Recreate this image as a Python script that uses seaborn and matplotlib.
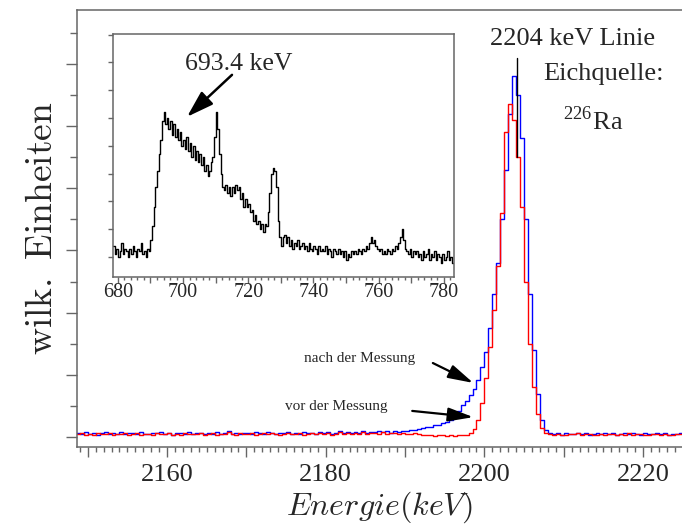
"""Ge-detector spectrum around the 2204 keV line, with inset of the 693.4 keV region."""

import matplotlib
matplotlib.use("Agg")
import matplotlib.pyplot as plt
from matplotlib.ticker import MultipleLocator, FuncFormatter, NullFormatter
import numpy as np
import pandas as pd
import seaborn as sns


# main spectrum: 0.5 keV channels starting at 2148.5 keV
MAIN_E_START = 2148.5
MAIN_BIN = 0.5

BLUE_NACH = [
    1.3, 0.9, 1.5, 1.1, 1.4, 0.8, 1.2, 1.6, 1.0, 1.3,
    1.1, 1.5, 0.9, 1.2, 1.4, 1.0, 1.7, 1.1, 0.9, 1.3,
    1.2, 1.5, 1.0, 1.3, 0.8, 1.2, 1.4, 1.1, 1.6, 1.0,
    1.3, 1.2, 0.9, 1.4, 1.1, 1.5, 1.0, 1.3, 1.8, 1.1,
    1.2, 0.9, 1.4, 1.2, 1.0, 1.5, 1.3, 1.1, 1.6, 1.2,
    1.0, 1.4, 1.2, 1.5, 1.1, 1.3, 0.9, 1.6, 1.2, 1.4,
    1.1, 1.7, 1.3, 1.5, 1.0, 1.4, 1.8, 1.2, 1.5, 1.3,
    1.6, 1.4, 1.9, 1.3, 1.7, 1.5, 2.0, 1.6, 1.8, 1.4,
    2.1, 1.7, 1.9,
    2.0, 2.4, 2.2, 2.7, 2.9, 3.3, 3.1, 3.8, 4.0, 4.4,
    4.8, 5.4, 6.5, 8.4, 10.2, 11.5, 13.6, 15.5, 18.2, 22.5,
    27.5, 35, 46, 56, 70, 86, 104, 116, 110, 96,
    70, 46, 28, 14, 5.5, 2.4,
    1.4, 1.0, 1.2, 0.8, 1.3, 1.1, 0.9, 1.2, 1.0, 1.4,
    0.8, 1.1, 1.3, 0.9, 1.2, 1.0, 1.3, 0.8, 1.1, 1.2,
    0.9, 1.3, 1.0, 0.7, 1.2, 1.1, 0.9, 1.3, 1.0, 1.2,
    0.8, 1.1, 1.0, 1.2,
]

RED_VOR = [
    1.0, 1.3, 0.8, 1.1, 0.7, 1.2, 0.9, 1.0, 1.4, 0.8,
    1.1, 0.9, 1.2, 0.7, 1.0, 1.3, 0.8, 1.1, 1.0, 0.6,
    1.2, 0.9, 1.1, 1.4, 0.8, 1.0, 0.7, 1.2, 0.9, 1.1,
    1.0, 1.3, 0.8, 1.0, 1.2, 0.7, 1.1, 0.9, 1.5, 1.0,
    0.8, 1.2, 0.9, 1.1, 1.3, 0.8, 1.0, 1.2, 0.9, 1.4,
    1.0, 0.8, 1.1, 1.3, 0.9, 1.0, 1.2, 0.7, 1.1, 1.4,
    0.9, 1.2, 1.0, 1.3, 0.8, 1.1, 1.5, 1.0, 1.2, 0.9,
    1.3, 1.1, 1.6, 1.0, 1.2, 1.4, 1.1, 1.5, 0.9, 1.3,
    1.2, 1.0, 1.4, 1.1, 0.9, 1.2, 1.0,
    0.7, 0.5, 0.6, 0.4, 0.6, 0.5, 0.3, 0.5, 0.4, 0.6, 0.5, 0.7,
    1.2, 2.6, 5.5, 11, 19, 29, 41, 55, 72, 98,
    107, 102, 90, 74, 50, 30, 16, 7.5, 3, 1.4,
    1.0, 0.7, 1.1, 0.8, 0.6, 1.0, 0.9, 1.2, 0.7, 0.9,
    1.1, 0.6, 0.8, 1.0, 0.7, 1.1, 0.9, 0.6, 1.0, 0.8,
    1.2, 0.7, 0.9, 1.0, 0.6, 0.8, 1.1, 0.9, 0.7, 1.0,
    0.8, 0.6, 0.9, 1.0,
]

# inset spectrum: 0.5 keV channels starting at 678.5 keV
INSET_E_START = 678.5
INSET_BIN = 0.5

INSET_COUNTS = [
    14, 11, 13, 10, 12, 15, 11, 13, 12, 10,
    13, 11, 14, 12, 10, 13, 12, 15, 11, 12,
    10, 13, 12,
    16, 21, 28, 35, 41, 47, 52, 59, 62, 58,
    60, 56, 59, 54, 58, 53, 56, 52, 55, 50,
    52, 49, 53, 48, 51, 46, 50, 45, 48, 44,
    47, 43, 46, 41, 43, 39, 41, 44, 46, 53,
    62, 56, 47, 40, 35, 34, 36, 33, 35, 32,
    35, 33, 36, 34, 35, 31, 33, 28, 31, 28,
    29, 26, 27, 23, 25, 22, 23, 20, 22, 19,
    22, 21, 26, 33, 40, 42, 41, 35, 23, 17,
    14, 17, 18, 15, 17,
    14, 16, 13, 15, 14, 16, 13, 14, 15, 13,
    14, 12, 15, 13, 12, 14, 13, 11, 14, 12,
    13, 12, 14, 11, 13, 12, 10, 13, 12, 11,
    13, 11, 12, 10, 12, 9, 11, 10, 12, 11,
    12, 11, 13, 12, 11, 13, 12, 14, 13, 15,
    17, 15, 16, 14, 13, 12, 13, 11, 12, 11,
    13, 12, 11, 13, 12, 14, 13, 15, 17, 20,
    16, 13, 12, 11, 13, 10, 12, 11, 12, 10,
    11, 9, 12, 10, 11, 13, 9, 11, 10, 12,
    9, 11, 10, 8, 11, 9, 10, 12, 9, 10,
    8,
]

LINE_E = 2204.1

FRAME = "#666666"


def step_frame(start, width, values):
    edges = start + width * np.arange(len(values) + 1)
    return pd.DataFrame({"E": edges, "c": list(values) + [values[-1]]})


def every(step):
    return FuncFormatter(lambda v, _: f"{v:.0f}" if abs(v / step - round(v / step)) < 1e-6 else "")


def style_axes(ax):
    for side in ("left", "bottom", "top", "right"):
        ax.spines[side].set_color(FRAME)
        ax.spines[side].set_linewidth(1.1)
    ax.tick_params(which="both", direction="out", color=FRAME, width=1.0)


def main():
    sns.set_theme(style="ticks")
    plt.rcParams["font.family"] = ["Liberation Serif", "DejaVu Serif"]
    plt.rcParams["mathtext.fontset"] = "cm"

    fig = plt.figure(figsize=(6.82, 5.30), dpi=100)

    # ---- main axes ----
    ax = fig.add_axes([0.1129, 0.1566, 0.8871, 0.8245])
    style_axes(ax)
    ax.spines["right"].set_visible(False)

    blue = step_frame(MAIN_E_START, MAIN_BIN, BLUE_NACH)
    red = step_frame(MAIN_E_START, MAIN_BIN, RED_VOR)
    sns.lineplot(data=blue, x="E", y="c", color="#0000ff", lw=1.0,
                 drawstyle="steps-post", estimator=None, ax=ax)
    sns.lineplot(data=red, x="E", y="c", color="#ff0000", lw=1.0,
                 drawstyle="steps-post", estimator=None, ax=ax)
    ax.plot([LINE_E, LINE_E], [90, 122], color="black", lw=1.0)

    ax.set_xlim(2148.65, 2224.9)
    ax.set_ylim(-3.2, 137.3)
    ax.xaxis.set_major_locator(MultipleLocator(10))
    ax.xaxis.set_minor_locator(MultipleLocator(1))
    ax.xaxis.set_major_formatter(every(20))
    ax.yaxis.set_major_locator(MultipleLocator(20))
    ax.yaxis.set_minor_locator(MultipleLocator(10))
    ax.yaxis.set_major_formatter(NullFormatter())
    ax.tick_params(axis="x", which="major", length=7, labelsize=19, pad=5)
    ax.tick_params(axis="x", which="minor", length=3.5)
    ax.tick_params(axis="y", which="major", length=8)
    ax.tick_params(axis="y", which="minor", length=5)
    ax.set_xlabel(r"$Energie(keV)$", fontsize=23, labelpad=3)
    ax.set_ylabel(r"$\mathrm{wilk.\ Einheiten}$", fontsize=27, labelpad=1)

    ax.text(2211.1, 126, "2204 keV Linie", fontsize=19, ha="center", va="baseline")
    ax.text(2215.0, 114.8, "Eichquelle:", fontsize=19, ha="center", va="baseline")
    ax.text(2213.6, 98.7, r"$^{\mathregular{226}}$Ra", fontsize=19, ha="center", va="baseline")

    arrow = dict(arrowstyle="-|>,head_length=1.1,head_width=0.3", color="black",
                 lw=1.6, mutation_scale=14, shrinkA=0, shrinkB=0)
    ax.annotate("", xy=(2198.6, 17.4), xytext=(2193.5, 23.8), arrowprops=arrow)
    ax.annotate("", xy=(2198.6, 6.4), xytext=(2190.9, 8.4), arrowprops=arrow)
    ax.text(2184.2, 24.2, "nach der Messung", fontsize=11, ha="center", va="baseline")
    ax.text(2181.3, 8.7, "vor der Messung", fontsize=11, ha="center", va="baseline")

    # ---- inset ----
    ins = fig.add_axes([0.1657, 0.4774, 0.5, 0.4585])
    ins.set_facecolor("white")
    style_axes(ins)
    inset = step_frame(INSET_E_START, INSET_BIN, INSET_COUNTS)
    sns.lineplot(data=inset, x="E", y="c", color="black", lw=1.0,
                 drawstyle="steps-post", estimator=None, ax=ins)
    ins.set_xlim(678.5, 783.1)
    ins.set_ylim(2.8, 90.2)
    ins.xaxis.set_major_locator(MultipleLocator(10))
    ins.xaxis.set_minor_locator(MultipleLocator(2))
    ins.xaxis.set_major_formatter(every(20))
    ins.yaxis.set_major_locator(MultipleLocator(10))
    ins.yaxis.set_major_formatter(NullFormatter())
    ins.tick_params(axis="x", which="major", length=4, labelsize=14.5, pad=0.5)
    ins.tick_params(axis="x", which="minor", length=2)
    ins.tick_params(axis="y", which="major", length=3.5)
    ins.set_xlabel("")
    ins.set_ylabel("")

    ins.text(717.1, 77.3, "693.4 keV", fontsize=18.5, ha="center", va="baseline")
    ins.annotate("", xy=(701.2, 60.4), xytext=(715.0, 75.5),
                 arrowprops=dict(arrowstyle="-|>,head_length=1.1,head_width=0.35",
                                 color="black", lw=1.8, mutation_scale=15,
                                 shrinkA=0, shrinkB=0))

    fig.savefig("out.png", dpi=100)
    plt.close(fig)


if __name__ == "__main__":
    main()
